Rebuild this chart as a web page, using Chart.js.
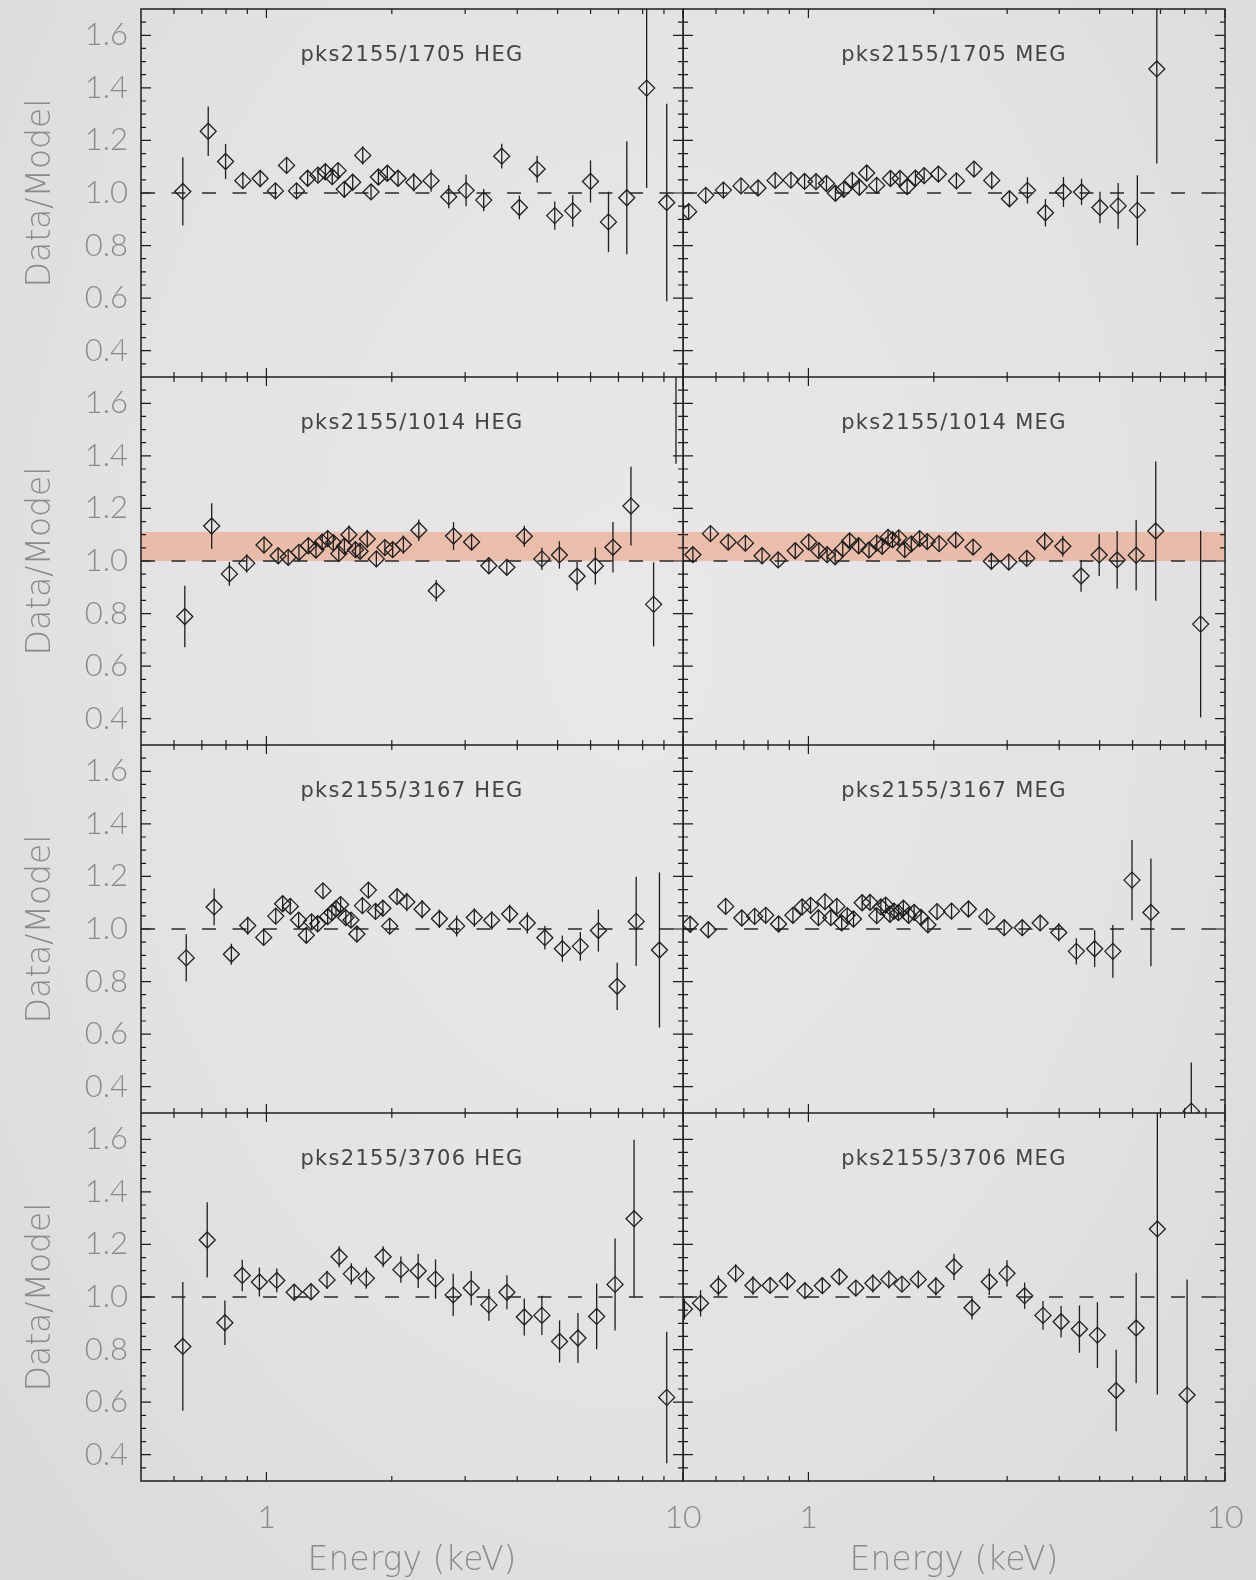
<!DOCTYPE html>
<html>
<head>
<meta charset="utf-8">
<script src="https://cdn.jsdelivr.net/npm/chart.js@4/dist/chart.umd.min.js"></script>
<style>
  html, body { margin: 0; padding: 0; }
  body {
    width: 1256px; height: 1580px; position: relative; overflow: hidden;
    background: radial-gradient(ellipse at 50% 40%, #e8e8ea 0%, #e3e3e5 55%, #d9d9db 100%);
  }
  .panel { position: absolute; }
</style>
</head>
<body>
<script>
// Energy (keV), Data/Model ratio and 1-sigma error for each observation / grating
const heg1705E = [0.630, 0.725, 0.798, 0.878, 0.966, 1.051, 1.118, 1.181, 1.256, 1.330, 1.385, 1.439, 1.486, 1.538, 1.611, 1.703, 1.783, 1.857, 1.951, 2.070, 2.258, 2.485, 2.740, 3.015, 3.324, 3.672, 4.048, 4.465, 4.922, 5.436, 5.998, 6.624, 7.33, 8.18, 9.14];
const heg1705R = [1.006, 1.235, 1.120, 1.047, 1.055, 1.008, 1.105, 1.008, 1.056, 1.068, 1.081, 1.062, 1.085, 1.014, 1.041, 1.143, 1.004, 1.061, 1.075, 1.056, 1.041, 1.047, 0.986, 1.010, 0.973, 1.140, 0.945, 1.091, 0.914, 0.932, 1.044, 0.890, 0.982, 1.399, 0.964];
const heg1705Err = [0.13, 0.094, 0.067, 0.032, 0.032, 0.03, 0.03, 0.03, 0.03, 0.03, 0.03, 0.03, 0.03, 0.03, 0.03, 0.035, 0.03, 0.03, 0.03, 0.03, 0.035, 0.042, 0.044, 0.06, 0.042, 0.047, 0.045, 0.051, 0.054, 0.06, 0.08, 0.115, 0.215, 0.38, 0.376];

const meg1705E = [0.516, 0.567, 0.625, 0.689, 0.757, 0.832, 0.908, 0.979, 1.043, 1.105, 1.161, 1.216, 1.275, 1.325, 1.380, 1.458, 1.574, 1.659, 1.726, 1.807, 1.896, 2.051, 2.266, 2.498, 2.755, 3.038, 3.356, 3.707, 4.095, 4.525, 5.01, 5.54, 6.16, 6.86];
const meg1705R = [0.929, 0.991, 1.011, 1.027, 1.019, 1.048, 1.049, 1.044, 1.043, 1.036, 0.999, 1.014, 1.048, 1.022, 1.076, 1.029, 1.055, 1.055, 1.024, 1.056, 1.066, 1.072, 1.046, 1.091, 1.048, 0.978, 1.010, 0.925, 1.004, 1.004, 0.945, 0.951, 0.934, 1.472];
const meg1705Err = [0.03, 0.03, 0.03, 0.03, 0.03, 0.03, 0.03, 0.03, 0.03, 0.03, 0.03, 0.03, 0.03, 0.03, 0.03, 0.03, 0.03, 0.03, 0.03, 0.03, 0.03, 0.03, 0.03, 0.03, 0.035, 0.03, 0.05, 0.052, 0.057, 0.05, 0.06, 0.087, 0.134, 0.36];

const heg1014E = [0.637, 0.739, 0.815, 0.897, 0.987, 1.067, 1.128, 1.197, 1.261, 1.315, 1.361, 1.403, 1.447, 1.492, 1.539, 1.578, 1.636, 1.678, 1.746, 1.836, 1.925, 2.009, 2.132, 2.322, 2.557, 2.813, 3.108, 3.42, 3.777, 4.16, 4.584, 5.05, 5.57, 6.16, 6.79, 7.50, 8.50, 9.62];
const heg1014R = [0.789, 1.133, 0.951, 0.991, 1.061, 1.020, 1.014, 1.033, 1.058, 1.042, 1.072, 1.085, 1.070, 1.028, 1.056, 1.100, 1.043, 1.037, 1.084, 1.008, 1.051, 1.043, 1.062, 1.117, 0.887, 1.095, 1.072, 0.982, 0.976, 1.094, 1.008, 1.023, 0.942, 0.981, 1.052, 1.209, 0.835, 1.90];
const heg1014Err = [0.117, 0.087, 0.045, 0.035, 0.03, 0.03, 0.03, 0.03, 0.03, 0.03, 0.03, 0.03, 0.03, 0.03, 0.03, 0.035, 0.03, 0.03, 0.035, 0.03, 0.03, 0.03, 0.035, 0.041, 0.041, 0.053, 0.032, 0.03, 0.03, 0.04, 0.042, 0.052, 0.054, 0.07, 0.096, 0.15, 0.16, 0.53];

const meg1014E = [0.528, 0.582, 0.642, 0.706, 0.774, 0.846, 0.930, 1.002, 1.059, 1.109, 1.159, 1.209, 1.256, 1.320, 1.398, 1.459, 1.504, 1.553, 1.592, 1.648, 1.703, 1.766, 1.849, 1.929, 2.059, 2.258, 2.485, 2.749, 3.027, 3.343, 3.692, 4.08, 4.514, 4.989, 5.51, 6.12, 6.82, 8.74];
const meg1014R = [1.024, 1.104, 1.072, 1.068, 1.020, 1.004, 1.039, 1.072, 1.039, 1.024, 1.016, 1.046, 1.076, 1.058, 1.042, 1.068, 1.056, 1.090, 1.081, 1.088, 1.043, 1.065, 1.085, 1.074, 1.066, 1.080, 1.053, 0.999, 0.996, 1.010, 1.075, 1.056, 0.943, 1.023, 1.004, 1.022, 1.114, 0.760];
const meg1014Err = [0.03, 0.03, 0.03, 0.03, 0.03, 0.03, 0.03, 0.03, 0.03, 0.03, 0.03, 0.03, 0.03, 0.03, 0.03, 0.03, 0.03, 0.03, 0.03, 0.03, 0.03, 0.03, 0.03, 0.03, 0.03, 0.03, 0.03, 0.03, 0.03, 0.03, 0.035, 0.04, 0.06, 0.08, 0.11, 0.134, 0.265, 0.355];

const heg3167E = [0.642, 0.749, 0.824, 0.902, 0.985, 1.053, 1.094, 1.141, 1.195, 1.247, 1.283, 1.328, 1.367, 1.403, 1.436, 1.469, 1.507, 1.551, 1.596, 1.649, 1.700, 1.757, 1.828, 1.904, 1.977, 2.059, 2.173, 2.364, 2.602, 2.862, 3.156, 3.473, 3.837, 4.230, 4.66, 5.134, 5.67, 6.265, 6.95, 7.72, 8.78];
const heg3167R = [0.890, 1.084, 0.904, 1.013, 0.968, 1.049, 1.096, 1.086, 1.034, 0.976, 1.027, 1.020, 1.145, 1.047, 1.062, 1.077, 1.093, 1.043, 1.034, 0.981, 1.089, 1.148, 1.067, 1.079, 1.011, 1.123, 1.103, 1.075, 1.039, 1.011, 1.044, 1.033, 1.057, 1.023, 0.967, 0.925, 0.934, 0.994, 0.782, 1.029, 0.920];
const heg3167Err = [0.09, 0.07, 0.04, 0.035, 0.03, 0.03, 0.03, 0.03, 0.03, 0.03, 0.03, 0.03, 0.03, 0.03, 0.03, 0.03, 0.03, 0.03, 0.03, 0.03, 0.03, 0.03, 0.03, 0.03, 0.03, 0.03, 0.035, 0.035, 0.035, 0.04, 0.035, 0.035, 0.035, 0.04, 0.045, 0.05, 0.055, 0.08, 0.09, 0.17, 0.295];

const meg3167E = [0.520, 0.575, 0.633, 0.692, 0.743, 0.790, 0.848, 0.918, 0.966, 1.012, 1.057, 1.096, 1.132, 1.170, 1.202, 1.239, 1.283, 1.346, 1.406, 1.459, 1.493, 1.533, 1.569, 1.605, 1.645, 1.690, 1.739, 1.794, 1.863, 1.936, 2.036, 2.206, 2.422, 2.680, 2.951, 3.26, 3.60, 3.99, 4.397, 4.865, 5.38, 5.98, 6.64, 8.30];
const meg3167R = [1.018, 0.997, 1.086, 1.042, 1.048, 1.052, 1.019, 1.052, 1.084, 1.090, 1.043, 1.104, 1.043, 1.086, 1.023, 1.051, 1.038, 1.100, 1.101, 1.051, 1.084, 1.091, 1.056, 1.068, 1.062, 1.079, 1.052, 1.063, 1.044, 1.016, 1.066, 1.068, 1.076, 1.047, 1.005, 1.005, 1.023, 0.987, 0.915, 0.925, 0.915, 1.186, 1.063, 0.307];
const meg3167Err = [0.03, 0.03, 0.03, 0.03, 0.03, 0.03, 0.03, 0.03, 0.03, 0.03, 0.03, 0.03, 0.03, 0.03, 0.03, 0.03, 0.03, 0.03, 0.03, 0.03, 0.03, 0.03, 0.03, 0.03, 0.03, 0.03, 0.03, 0.03, 0.03, 0.03, 0.03, 0.03, 0.03, 0.03, 0.03, 0.03, 0.03, 0.035, 0.05, 0.07, 0.1, 0.153, 0.205, 0.185];

const heg3706E = [0.630, 0.721, 0.795, 0.875, 0.962, 1.059, 1.166, 1.280, 1.398, 1.495, 1.599, 1.737, 1.906, 2.103, 2.314, 2.547, 2.808, 3.102, 3.42, 3.779, 4.159, 4.584, 5.055, 5.596, 6.205, 6.87, 7.63, 9.14];
const heg3706R = [0.812, 1.217, 0.902, 1.082, 1.057, 1.063, 1.018, 1.020, 1.065, 1.153, 1.088, 1.071, 1.153, 1.104, 1.099, 1.068, 1.008, 1.034, 0.970, 1.018, 0.924, 0.930, 0.831, 0.844, 0.926, 1.048, 1.298, 0.618];
const heg3706Err = [0.245, 0.143, 0.085, 0.06, 0.055, 0.045, 0.03, 0.03, 0.035, 0.04, 0.04, 0.04, 0.04, 0.05, 0.065, 0.075, 0.08, 0.065, 0.06, 0.065, 0.07, 0.075, 0.08, 0.095, 0.125, 0.175, 0.3, 0.25];

const meg3706E = [0.504, 0.551, 0.608, 0.669, 0.736, 0.809, 0.890, 0.981, 1.080, 1.186, 1.300, 1.428, 1.560, 1.677, 1.835, 2.023, 2.236, 2.470, 2.718, 2.997, 3.304, 3.657, 4.042, 4.473, 4.94, 5.48, 6.12, 6.88, 8.11];
const meg3706R = [0.954, 0.976, 1.042, 1.090, 1.044, 1.044, 1.060, 1.024, 1.043, 1.077, 1.034, 1.052, 1.067, 1.049, 1.067, 1.041, 1.115, 0.959, 1.058, 1.090, 1.005, 0.930, 0.906, 0.878, 0.855, 0.644, 0.882, 1.259, 0.627];
const meg3706Err = [0.04, 0.05, 0.04, 0.035, 0.035, 0.03, 0.035, 0.03, 0.03, 0.03, 0.03, 0.035, 0.035, 0.03, 0.035, 0.035, 0.05, 0.045, 0.05, 0.05, 0.05, 0.055, 0.06, 0.09, 0.125, 0.155, 0.21, 0.63, 0.44];

// shaded band in the second row (Data/Model range)
const bandRange = [1.0, 1.11];

// axis ticks
const yLabelTicks = [0.4, 0.6, 0.8, 1.0, 1.2, 1.4, 1.6];
const yMinorTicks = [0.35, 0.45, 0.5, 0.55, 0.65, 0.7, 0.75, 0.85, 0.9, 0.95, 1.05, 1.1, 1.15, 1.25, 1.3, 1.35, 1.45, 1.5, 1.55, 1.65];
const xLabelTicks = [1, 10];
const xMinorTicks = [0.6, 0.7, 0.8, 0.9, 2, 3, 4, 5, 6, 7, 8, 9];

const panels = [
  { title: 'pks2155/1705 HEG', e: heg1705E, r: heg1705R, err: heg1705Err },
  { title: 'pks2155/1705 MEG', e: meg1705E, r: meg1705R, err: meg1705Err },
  { title: 'pks2155/1014 HEG', e: heg1014E, r: heg1014R, err: heg1014Err },
  { title: 'pks2155/1014 MEG', e: meg1014E, r: meg1014R, err: meg1014Err },
  { title: 'pks2155/3167 HEG', e: heg3167E, r: heg3167R, err: heg3167Err },
  { title: 'pks2155/3167 MEG', e: meg3167E, r: meg3167R, err: meg3167Err },
  { title: 'pks2155/3706 HEG', e: heg3706E, r: heg3706R, err: heg3706Err },
  { title: 'pks2155/3706 MEG', e: meg3706E, r: meg3706R, err: meg3706Err }
];

const labelGrey = '#8a8a8a';
const ink = '#1e1e1e';
const titleFont = 'DejaVu Sans';

// vertical error bars, clipped to the plot box
const errorBars = {
  id: 'errorBars',
  afterDatasetsDraw(chart) {
    const { ctx, chartArea: a, scales: { x, y } } = chart;
    ctx.save();
    ctx.beginPath();
    ctx.rect(a.left, a.top, a.right - a.left, a.bottom - a.top);
    ctx.clip();
    ctx.strokeStyle = ink;
    ctx.lineWidth = 1.3;
    chart.data.datasets.forEach(ds => {
      if (!ds.errors) return;
      ds.data.forEach((pt, i) => {
        const px = x.getPixelForValue(pt.x);
        ctx.beginPath();
        ctx.moveTo(px, y.getPixelForValue(pt.y - ds.errors[i]));
        ctx.lineTo(px, y.getPixelForValue(pt.y + ds.errors[i]));
        ctx.stroke();
      });
    });
    ctx.restore();
  }
};

// box, inward ticks on all four sides, and the panel label
const frame = {
  id: 'frame',
  afterDraw(chart) {
    const { ctx, chartArea: a, scales: { x, y } } = chart;
    ctx.save();
    ctx.strokeStyle = ink;
    ctx.lineWidth = 1.5;
    ctx.strokeRect(a.left, a.top, a.right - a.left, a.bottom - a.top);
    ctx.lineWidth = 1.2;
    const yTick = (v, len) => {
      const py = y.getPixelForValue(v);
      ctx.beginPath();
      ctx.moveTo(a.left, py); ctx.lineTo(a.left + len, py);
      ctx.moveTo(a.right, py); ctx.lineTo(a.right - len, py);
      ctx.stroke();
    };
    const xTick = (v, len) => {
      const px = x.getPixelForValue(v);
      ctx.beginPath();
      ctx.moveTo(px, a.top); ctx.lineTo(px, a.top + len);
      ctx.moveTo(px, a.bottom); ctx.lineTo(px, a.bottom - len);
      ctx.stroke();
    };
    yLabelTicks.forEach(v => yTick(v, 10));
    yMinorTicks.forEach(v => yTick(v, 5));
    xLabelTicks.forEach(v => xTick(v, 9));
    xMinorTicks.forEach(v => xTick(v, 5));
    ctx.fillStyle = '#444444';
    ctx.font = '21px "DejaVu Sans"';
    ctx.letterSpacing = '1.3px';
    ctx.textAlign = 'center';
    ctx.textBaseline = 'middle';
    ctx.fillText(chart.options.panelTitle, (a.left + a.right) / 2, a.top + 47);
    ctx.restore();
  }
};

function makePanel(p, idx) {
  const row = Math.floor(idx / 2), col = idx % 2;
  const left = col === 0 ? 0 : 683;
  const width = col === 0 ? 720 : 573;
  const top = row === 0 ? 0 : 9 + 368 * row;
  const height = row === 0 ? 377 : (row === 3 ? 467 : 368);
  const wrap = document.createElement('div');
  wrap.className = 'panel';
  wrap.style.left = left + 'px';
  wrap.style.top = top + 'px';
  const canvas = document.createElement('canvas');
  canvas.width = width;
  canvas.height = height;
  wrap.appendChild(canvas);
  document.body.appendChild(wrap);

  const datasets = [
    {
      data: p.e.map((v, i) => ({ x: v, y: p.r[i] })),
      errors: p.err,
      pointStyle: 'rectRot',
      pointRadius: 8,
      pointBorderColor: ink,
      pointBackgroundColor: 'rgba(0,0,0,0)',
      pointBorderWidth: 1.3,
      showLine: false,
      clip: 0,
      order: 1
    },
    {
      type: 'line',
      data: [{ x: 0.5, y: 1 }, { x: 10, y: 1 }],
      borderColor: '#2a2a2a',
      borderWidth: 1.3,
      borderDash: [14, 16.5],
      pointRadius: 0,
      fill: false,
      order: 2
    }
  ];
  if (row === 1) {
    datasets.push({
      type: 'line',
      data: [{ x: 0.5, y: bandRange[1] }, { x: 10, y: bandRange[1] }],
      fill: { value: bandRange[0] },
      backgroundColor: 'rgba(239,150,110,0.5)',
      borderWidth: 0,
      pointRadius: 0,
      order: 3
    });
  }

  const noPad = s => { s.paddingLeft = 0; s.paddingRight = 0; s.paddingTop = 0; s.paddingBottom = 0; };

  new Chart(canvas, {
    type: 'scatter',
    data: { datasets },
    options: {
      panelTitle: p.title,
      responsive: false,
      animation: false,
      events: [],
      layout: {
        autoPadding: false,
        padding: { top: row === 0 ? 9 : 0, right: col === 1 ? 31 : 37, left: 0, bottom: 0 }
      },
      plugins: { legend: { display: false }, tooltip: { enabled: false } },
      scales: {
        x: {
          type: 'logarithmic',
          min: 0.5,
          max: 10,
          display: row === 3,
          afterBuildTicks: s => { s.ticks = xLabelTicks.map(v => ({ value: v })); },
          afterFit: s => { noPad(s); if (row === 3) s.height = 99; },
          grid: { display: false, drawTicks: false },
          border: { display: false },
          ticks: {
            padding: 17,
            color: labelGrey,
            font: { family: 'Lato', size: 32, weight: '300' },
            maxRotation: 0,
            autoSkip: false,
            callback: v => String(v)
          },
          title: {
            display: true,
            text: 'Energy (keV)',
            color: labelGrey,
            font: { family: titleFont, size: 33, weight: '200' },
            padding: { top: 0, bottom: -1 }
          }
        },
        y: {
          min: 0.3,
          max: 1.7,
          display: col === 0,
          afterBuildTicks: s => { s.ticks = yLabelTicks.map(v => ({ value: v })); },
          afterFit: s => { noPad(s); if (col === 0) s.width = 141; },
          grid: { display: false, drawTicks: false },
          border: { display: false },
          ticks: {
            padding: 13,
            color: labelGrey,
            font: { family: 'Lato', size: 31, weight: '300' },
            callback: v => v.toFixed(1)
          },
          title: {
            display: true,
            text: 'Data/Model',
            color: labelGrey,
            font: { family: titleFont, size: 33, weight: '200' },
            padding: { top: 22, bottom: 0 }
          }
        }
      }
    },
    plugins: [errorBars, frame]
  });
}

panels.forEach(makePanel);
</script>
</body>
</html>
